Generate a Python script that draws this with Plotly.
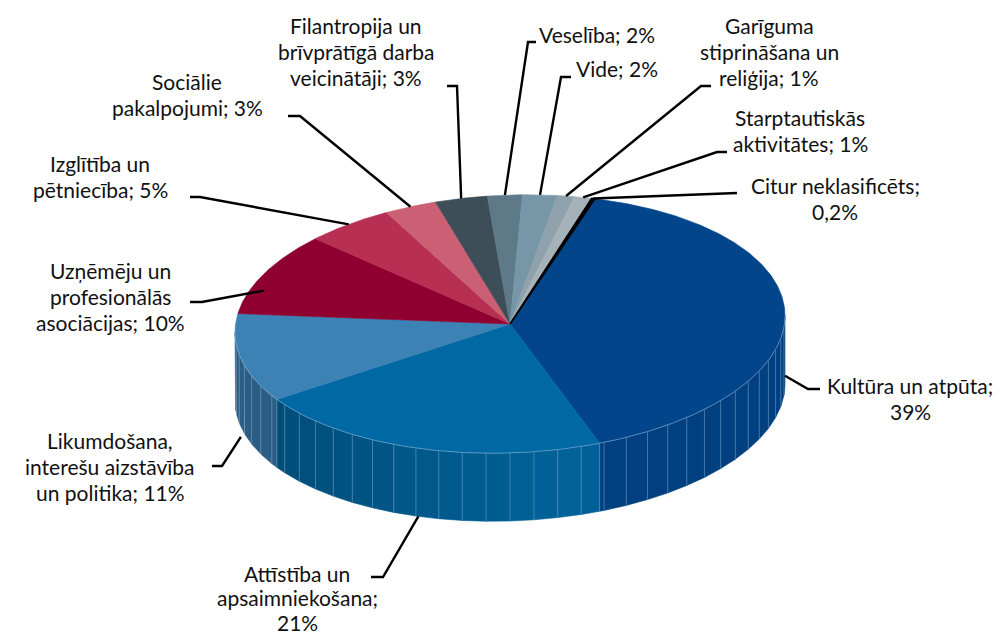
import math
import plotly.graph_objects as go

# ---------------- data ----------------
categories = [
    "Kultūra un atpūta", "Attīstība un apsaimniekošana",
    "Likumdošana, interešu aizstāvība un politika",
    "Uzņēmēju un profesionālās asociācijas", "Izglītība un pētniecība",
    "Sociālie pakalpojumi", "Filantropija un brīvprātīgā darba veicinātāji",
    "Veselība", "Vide", "Garīguma stiprināšana un reliģija",
    "Starptautiskās aktivitātes", "Citur neklasificēts",
]
values = [39, 21, 11, 10, 5, 3, 3, 2, 2, 1, 1, 0.2]
pct_labels = ["39%", "21%", "11%", "10%", "5%", "3%", "3%", "2%", "2%", "1%", "1%", "0,2%"]
label_lines = [
    ["Kultūra un atpūta;", "39%"],
    ["Attīstība un", "apsaimniekošana;", "21%"],
    ["Likumdošana,", "interešu aizstāvība", "un politika; 11%"],
    ["Uzņēmēju un", "profesionālās", "asociācijas; 10%"],
    ["Izglītība un", "pētniecība; 5%"],
    ["Sociālie", "pakalpojumi; 3%"],
    ["Filantropija un", "brīvprātīgā darba", "veicinātāji; 3%"],
    ["Veselība; 2%"],
    ["Vide; 2%"],
    ["Garīguma", "stiprināšana un", "reliģija; 1%"],
    ["Starptautiskās", "aktivitātes; 1%"],
    ["Citur neklasificēts;", "0,2%"],
]
top_colors = ["#02458a", "#0068a3", "#3c82b5", "#8f0030", "#b72f53", "#cb5f73",
              "#3e4e59", "#5e7987", "#7797a8", "#8fa1aa", "#a5b2b9", "#000000"]

# ---------------- geometry (layout) ----------------
CX, CY, RX, RY, DEPTH, SHEAR = 510, 324, 275, 129, 68, 0.03
START = 18.0
FONT = "Lato"
FS = 21
LH = 26

# label layout: (drop fraction, elbow x, elbow y, tick end x, text x, text y of first line, xanchor, line height)
label_layout = [
    (0.9, 808, 389, 820, 910, 385, "center", 26),
    (1.0, 383, 577, 371, 297, 573, "center", 24.5),
    (1.15, 222, 466, 212, 110, 440, "center", 26),
    (0.25, 202, 302, 190, 110, 270, "center", 26),
    (0.0, 200, 197, 190, 100, 163, "center", 26),
    (0.0, 300, 116, 288, 187, 81, "center", 26),
    (0.0, 457, 86, 447, 356, 25, "center", 26),
    (0.0, 528, 42, 536, 537, 34, "left", 26),
    (0.0, 561, 77, 571, 574, 68, "left", 26),
    (0.0, 701, 86, 711, 769, 25, "center", 26),
    (0.0, 717, 152, 727, 800, 117, "center", 26),
    (0.0, 737, 193, 737, 835, 185, "center", 26),
]


def pt(theta, drop=0.0):
    t = math.radians(theta)
    x = CX + RX * math.sin(t)
    y = CY - RY * math.cos(t) + SHEAR * (CX - x) + drop
    return x, y


def arc(a, b, drop=0.0, step=0.5):
    n = max(2, int(abs(b - a) / step) + 1)
    pts = [pt(a + (b - a) * i / (n - 1), drop) for i in range(n)]
    return [p[0] for p in pts], [p[1] for p in pts]


def shade(hexc, f):
    h = hexc.lstrip("#")
    r, g, b = (int(h[i:i + 2], 16) for i in (0, 2, 4))
    return "rgb(%d,%d,%d)" % (r * f, g * f, b * f)


def side_factor(theta):
    if theta <= 165:
        return 0.93
    if theta <= 237:
        return 0.95 - (theta - 165) / 72 * 0.21
    return 0.73


total = sum(values)
bounds = []
acc = START
for v in values:
    a = acc
    acc += v / total * 360.0
    bounds.append((a, acc))

fig = go.Figure()

# sides (visible front half 90..270)
facet_x, facet_y = [], []
for (a, b), col in zip(bounds, top_colors):
    lo, hi = max(a, 90.0), min(b, 270.0)
    if hi <= lo:
        continue
    segs = []
    s = lo
    while s < hi - 1e-6:
        e = min(hi, (math.floor(s / 5.0) + 1) * 5.0)
        segs.append((s, e))
        s = e
    for s, e in segs:
        ux, uy = arc(s, e)
        lx, ly = arc(e, s, DEPTH)
        c = shade(col, side_factor((s + e) / 2))
        fig.add_trace(go.Scatter(x=ux + lx + [ux[0]], y=uy + ly + [uy[0]], mode="lines",
                                 fill="toself", fillcolor=c, line=dict(color=c, width=0.6),
                                 hoverinfo="skip", showlegend=False))
        if e < 270:
            x0, y0 = pt(e)
            x1, y1 = pt(e, DEPTH)
            facet_x += [x0, x1, None]
            facet_y += [y0, y1, None]

fig.add_trace(go.Scatter(x=facet_x, y=facet_y, mode="lines",
                         line=dict(color="rgba(140,180,215,0.55)", width=0.8),
                         hoverinfo="skip", showlegend=False))

# top faces
for (a, b), col, name in zip(bounds, top_colors, categories):
    ax_, ay_ = arc(a, b)
    xs = [CX] + ax_ + [CX]
    ys = [CY] + ay_ + [CY]
    lw = 1.6 if b - a < 2 else 0.6
    fig.add_trace(go.Scatter(x=xs, y=ys, mode="lines", fill="toself", fillcolor=col,
                             line=dict(color=col, width=lw), name=name,
                             hoverinfo="name", showlegend=False))

# light rim on front edge of top face
rx_, ry_ = arc(90, 270)
fig.add_trace(go.Scatter(x=rx_, y=ry_, mode="lines",
                         line=dict(color="rgba(150,185,220,0.7)", width=0.8),
                         hoverinfo="skip", showlegend=False))

# leader lines and labels
annotations = []
for (a, b), lines, lay in zip(bounds, label_lines, label_layout):
    drop, ex, ey, tx, txx, ty, anch, lh = lay
    mid = (a + b) / 2
    px, py = pt(mid, drop * DEPTH)
    fig.add_trace(go.Scatter(x=[px, ex, tx], y=[py, ey, ey], mode="lines",
                             line=dict(color="black", width=2.4),
                             hoverinfo="skip", showlegend=False))
    for i, ln in enumerate(lines):
        annotations.append(dict(x=txx, y=ty + i * lh, text=ln, showarrow=False,
                                xanchor=anch, yanchor="middle",
                                font=dict(family=FONT, size=FS, color="#111111")))

fig.update_layout(
    width=1001, height=637,
    margin=dict(l=0, r=0, t=0, b=0),
    paper_bgcolor="white", plot_bgcolor="white",
    xaxis=dict(range=[0, 1001], visible=False, fixedrange=True),
    yaxis=dict(range=[637, 0], visible=False, fixedrange=True),
    annotations=annotations,
    showlegend=False,
)
fig.write_html("out.html", config={"displayModeBar": False},
               post_script="document.body.style.margin='0';")
